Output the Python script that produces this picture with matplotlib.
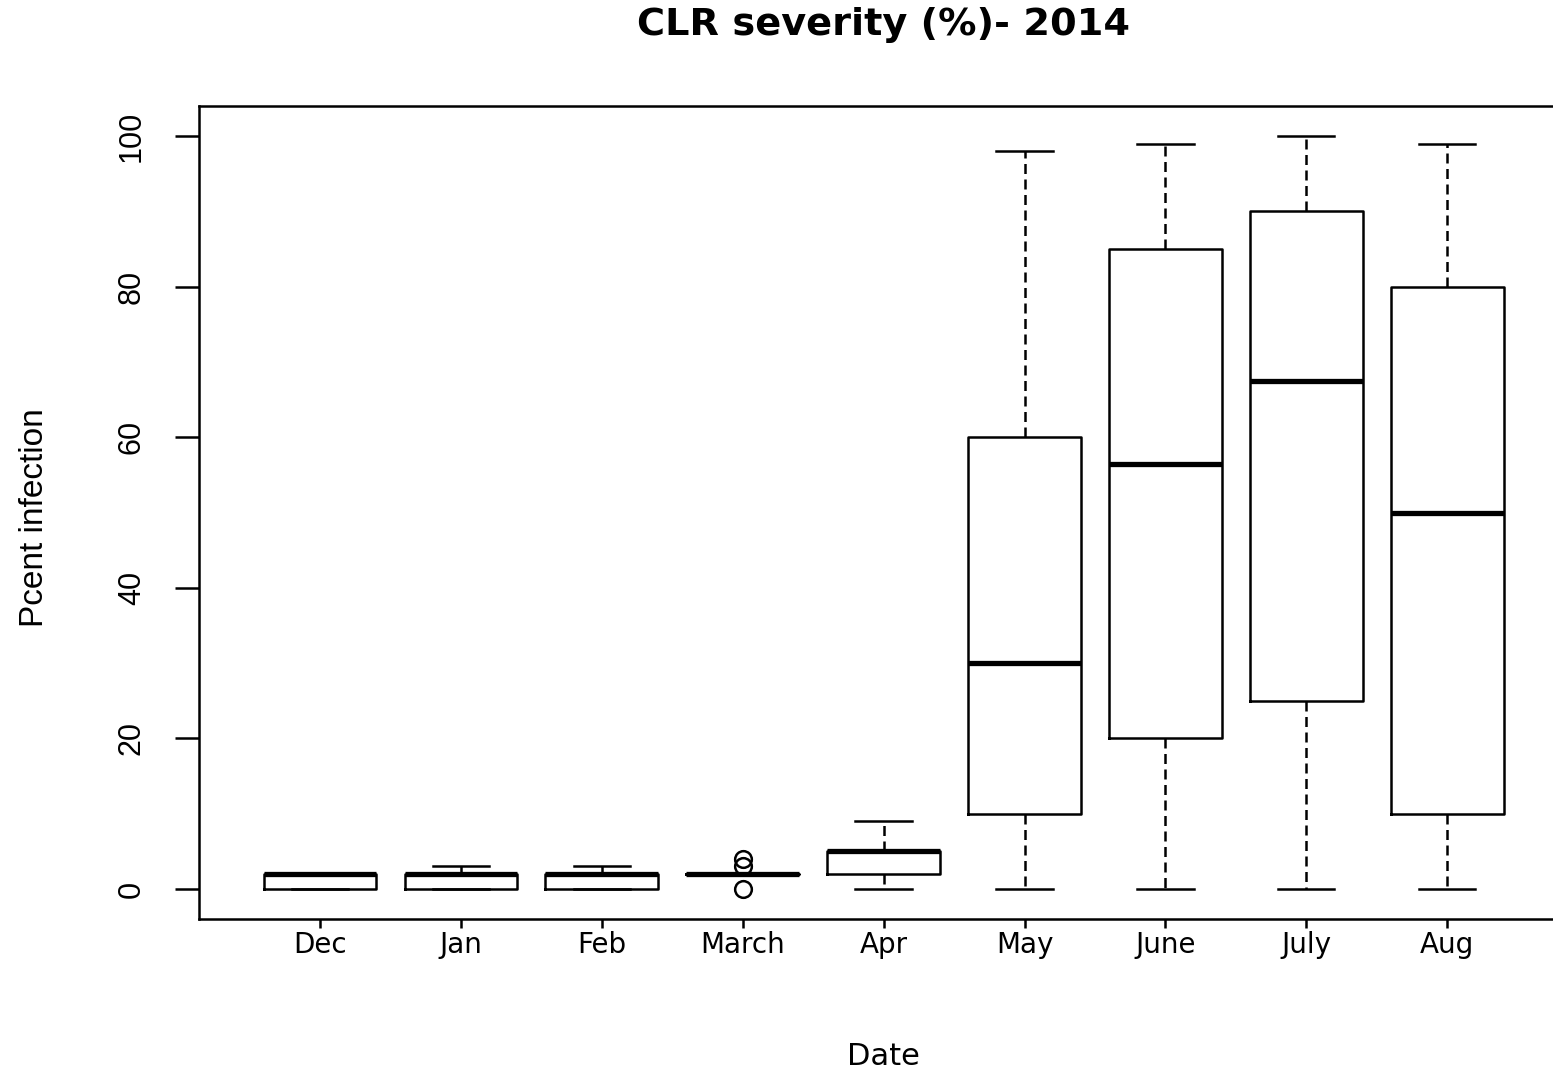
import matplotlib

matplotlib.use("Agg")
import matplotlib.pyplot as plt

# data
months = ["Dec", "Jan", "Feb", "March", "Apr", "May", "June", "July", "Aug"]
whisker_lo = [0, 0, 0, 2, 0, 0, 0, 0, 0]
q1 = [0, 0, 0, 2, 2, 10, 20, 25, 10]
median = [2, 2, 2, 2, 5, 30, 56.5, 67.5, 50]
q3 = [2, 2, 2, 2, 5, 60, 85, 90, 80]
whisker_hi = [2, 3, 3, 2, 9, 98, 99, 100, 99]
outliers = [[], [], [], [0, 3, 4], [], [], [], [], []]

title = "CLR severity (%)- 2014"
xlabel = "Date"
ylabel = "Pcent infection"
yticks = [0, 20, 40, 60, 80, 100]

W, H = 1553, 1073
fig = plt.figure(figsize=(W / 100, H / 100), dpi=100)

# plot region in pixels (right edge runs past the image, as in the reference)
x0, x1 = 198.8, 1568.4
y0, y1 = 105.9, 919.1
ax = fig.add_axes([x0 / W, 1 - y1 / H, (x1 - x0) / W, (y1 - y0) / H])

stats = []
for i, m in enumerate(months):
    stats.append(dict(label=m, whislo=whisker_lo[i], q1=q1[i], med=median[i],
                      q3=q3[i], whishi=whisker_hi[i], fliers=outliers[i]))

pos = list(range(1, len(months) + 1))
lw = 1.8
ax.bxp(
    stats, positions=pos, widths=0.8, capwidths=0.4, patch_artist=False,
    boxprops=dict(color="black", linewidth=lw),
    medianprops=dict(color="black", linewidth=3.8, solid_capstyle="butt"),
    whiskerprops=dict(color="black", linewidth=lw, linestyle=(0, (4, 2.2))),
    capprops=dict(color="black", linewidth=lw),
    flierprops=dict(marker="o", markerfacecolor="none", markeredgecolor="black",
                    markersize=12, markeredgewidth=lw),
)

ax.set_xlim(0.14, 9.86)
ax.set_ylim(-4, 104)
for s in ax.spines.values():
    s.set_linewidth(lw)

ax.set_xticks(pos)
ax.set_xticklabels(months, fontsize=20, family="DejaVu Sans")
ax.tick_params(axis="x", length=6.5, width=lw, pad=2)

ax.set_yticks(yticks)
ax.set_yticklabels([str(v) for v in yticks], fontsize=22,
                   family="Liberation Sans", rotation=90, va="center")
ax.tick_params(axis="y", length=17.3, width=lw, pad=20)

fig.text(883.5 / W, 1 - 35 / H, title, ha="center", va="baseline",
         fontsize=27.5, fontweight="bold", family="DejaVu Sans")
fig.text(883.5 / W, 1 - 1065 / H, xlabel, ha="center", va="baseline",
         fontsize=22, family="DejaVu Sans")
fig.text(35 / W, 1 - 518 / H, ylabel, ha="center", va="center", rotation=90,
         fontsize=24, family="Liberation Sans")

fig.savefig("out.png", dpi=100)
